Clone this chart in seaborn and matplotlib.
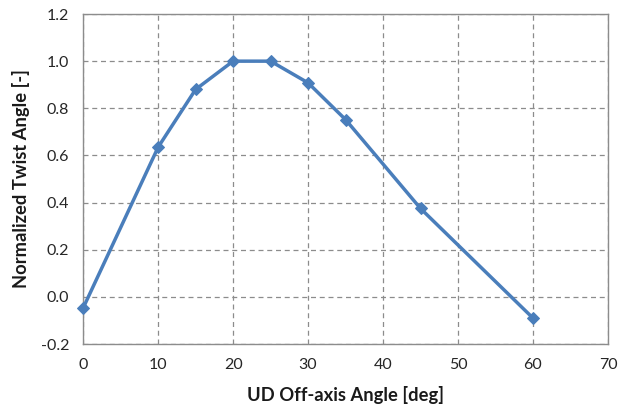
import numpy as np
import pandas as pd
import matplotlib.pyplot as plt
import seaborn as sns

# values
off_axis_angle = [0, 10, 15, 20, 25, 30, 35, 45, 60]
twist_norm = [-0.047, 0.635, 0.88, 1.0, 1.0, 0.908, 0.752, 0.375, -0.09]

df = pd.DataFrame({'angle': off_axis_angle, 'twist': twist_norm})

sns.set_style('white')
plt.rcParams['font.family'] = ['Lato', 'DejaVu Sans']

fig = plt.figure(figsize=(6.3, 4.12), dpi=100)
ax = fig.add_axes([0.132, 0.165, 0.833, 0.801])

sns.lineplot(data=df, x='angle', y='twist', ax=ax,
             color='#4A7EBB', linewidth=2.5, marker='D', markersize=6,
             markeredgecolor='#4A7EBB', clip_on=False, zorder=5)

ax.set_xlim(0, 70)
ax.set_ylim(-0.2, 1.2)
ax.set_xticks(np.arange(0, 71, 10))
ax.set_yticks(np.arange(-0.2, 1.21, 0.2))
ax.set_yticklabels([f'{v:.1f}' for v in np.arange(-0.2, 1.21, 0.2)])

ax.grid(True, color='#8C8C8C', linestyle=(0, (4, 3)), linewidth=0.9)
for s in ax.spines.values():
    s.set_color('#8C8C8C')
    s.set_linewidth(1.0)

ax.tick_params(axis='both', labelsize=11.5, length=4,
               direction='out', color='#8C8C8C', pad=6)
ax.tick_params(axis='both', labelcolor='#262626')

ax.set_xlabel('UD Off-axis Angle [deg]', fontsize=13.2, fontweight='bold',
              color='#1a1a1a', labelpad=10)
ax.set_ylabel('Normalized Twist Angle [-]', fontsize=13.2, fontweight='bold',
              color='#1a1a1a', labelpad=8)

plt.savefig('out.png', dpi=100)
